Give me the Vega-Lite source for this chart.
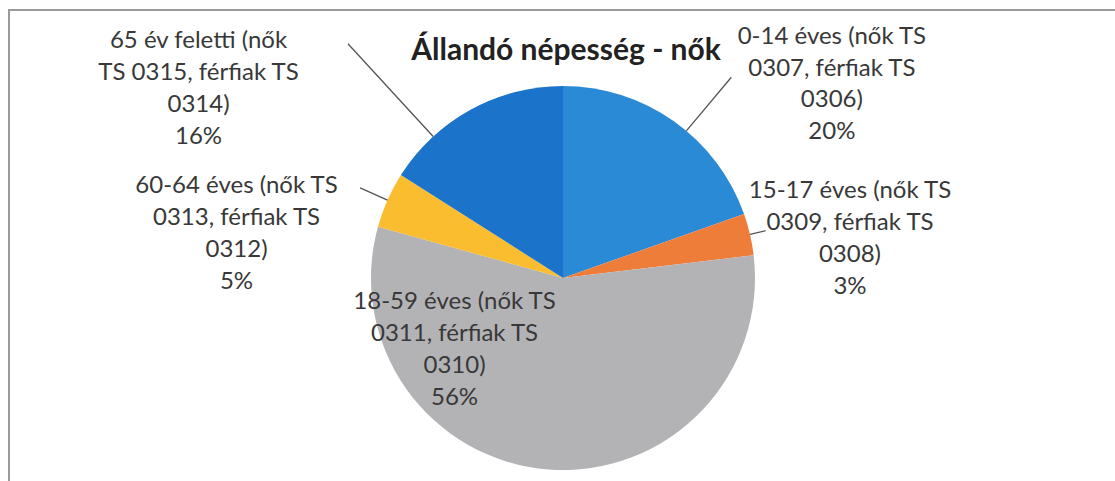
{
  "$schema": "https://vega.github.io/schema/vega-lite/v6.json",
  "autosize": "none",
  "padding": {"left": 9, "top": 10, "right": 0, "bottom": 0},
  "width": 1108,
  "height": 536,
  "background": "white",
  "view": {"stroke": "#9a9a9a", "strokeWidth": 2, "fill": "white"},
  "title": {"text": "Állandó népesség - nők", "font": "Lato", "fontSize": 30, "fontWeight": "bold", "color": "#222222", "anchor": "middle", "frame": "group", "offset": -83, "dy": 52, "dx": 3},
  "data": {"values": [
    {"cat": "0-14", "value": 19.6, "label": "0-14 éves (nők TS\n0307, férfiak TS\n0306)\n20%"},
    {"cat": "15-17", "value": 3.5, "label": "15-17 éves (nők TS\n0309, férfiak TS\n0308)\n3%"},
    {"cat": "18-59", "value": 56.2, "label": "18-59 éves (nők TS\n0311, férfiak TS\n0310)\n56%"},
    {"cat": "60-64", "value": 4.7, "label": "60-64 éves (nők TS\n0313, férfiak TS\n0312)\n5%"},
    {"cat": "65+", "value": 16.0, "label": "65 év feletti (nők\nTS 0315, férfiak TS\n0314)\n16%"}
  ]},
  "encoding": {
    "theta": {"field": "value", "type": "quantitative", "stack": true}
  },
  "layer": [
    {
      "mark": {"type": "arc", "radius": 192},
      "encoding": {
        "color": {"field": "cat", "type": "nominal", "legend": null,
          "scale": {"domain": ["0-14", "15-17", "18-59", "60-64", "65+"], "range": ["#2b8ad6", "#ef7d3a", "#b3b3b6", "#fabd2f", "#1b73ca"]}}
      }
    },
    {
      "mark": {"type": "arc", "radius": 262, "radius2": 192, "padAngle": 3, "thetaOffset": 0.082, "theta2Offset": 0.082, "fill": null, "stroke": "#555555", "strokeWidth": 1.3},
      "encoding": {
        "detail": {"field": "cat"},
        "strokeOpacity": {"condition": {"test": "datum.cat === '0-14'", "value": 1}, "value": 0}
      }
    },
    {
      "mark": {"type": "arc", "radius": 208, "radius2": 192, "padAngle": 3, "fill": null, "stroke": "#555555", "strokeWidth": 1.3},
      "encoding": {
        "detail": {"field": "cat"},
        "strokeOpacity": {"condition": {"test": "datum.cat === '15-17'", "value": 1}, "value": 0}
      }
    },
    {
      "mark": {"type": "arc", "radius": 222, "radius2": 192, "padAngle": 3, "fill": null, "stroke": "#555555", "strokeWidth": 1.3},
      "encoding": {
        "detail": {"field": "cat"},
        "strokeOpacity": {"condition": {"test": "datum.cat === '60-64'", "value": 1}, "value": 0}
      }
    },
    {
      "mark": {"type": "arc", "radius": 318, "radius2": 192, "padAngle": 3, "thetaOffset": -0.24, "theta2Offset": -0.24, "fill": null, "stroke": "#555555", "strokeWidth": 1.3},
      "encoding": {
        "detail": {"field": "cat"},
        "strokeOpacity": {"condition": {"test": "datum.cat === '65+'", "value": 1}, "value": 0}
      }
    },
    {
      "mark": {"type": "text", "radius": 192, "dx": 158, "dy": -84, "align": "center", "baseline": "middle", "lineBreak": "\n", "lineHeight": 31.5, "font": "Lato", "fontSize": 24, "color": "#383838"},
      "encoding": {"detail": {"field": "cat"}, "text": {"condition": {"test": "datum.cat === '0-14'", "field": "label"}, "value": ""}}
    },
    {
      "mark": {"type": "text", "radius": 192, "dx": 100, "dy": -43, "align": "center", "baseline": "middle", "lineBreak": "\n", "lineHeight": 32, "font": "Lato", "fontSize": 24, "color": "#383838"},
      "encoding": {"detail": {"field": "cat"}, "text": {"condition": {"test": "datum.cat === '15-17'", "field": "label"}, "value": ""}}
    },
    {
      "mark": {"type": "text", "radius": 192, "dx": -94, "dy": -167, "align": "center", "baseline": "middle", "lineBreak": "\n", "lineHeight": 32, "font": "Lato", "fontSize": 24, "color": "#383838"},
      "encoding": {"detail": {"field": "cat"}, "text": {"condition": {"test": "datum.cat === '18-59'", "field": "label"}, "value": ""}}
    },
    {
      "mark": {"type": "text", "radius": 192, "dx": -151, "dy": -14, "align": "center", "baseline": "middle", "lineBreak": "\n", "lineHeight": 32, "font": "Lato", "fontSize": 24, "color": "#383838"},
      "encoding": {"detail": {"field": "cat"}, "text": {"condition": {"test": "datum.cat === '60-64'", "field": "label"}, "value": ""}}
    },
    {
      "mark": {"type": "text", "radius": 192, "dx": -272, "dy": -69, "align": "center", "baseline": "middle", "lineBreak": "\n", "lineHeight": 32, "font": "Lato", "fontSize": 24, "color": "#383838"},
      "encoding": {"detail": {"field": "cat"}, "text": {"condition": {"test": "datum.cat === '65+'", "field": "label"}, "value": ""}}
    }
  ]
}
